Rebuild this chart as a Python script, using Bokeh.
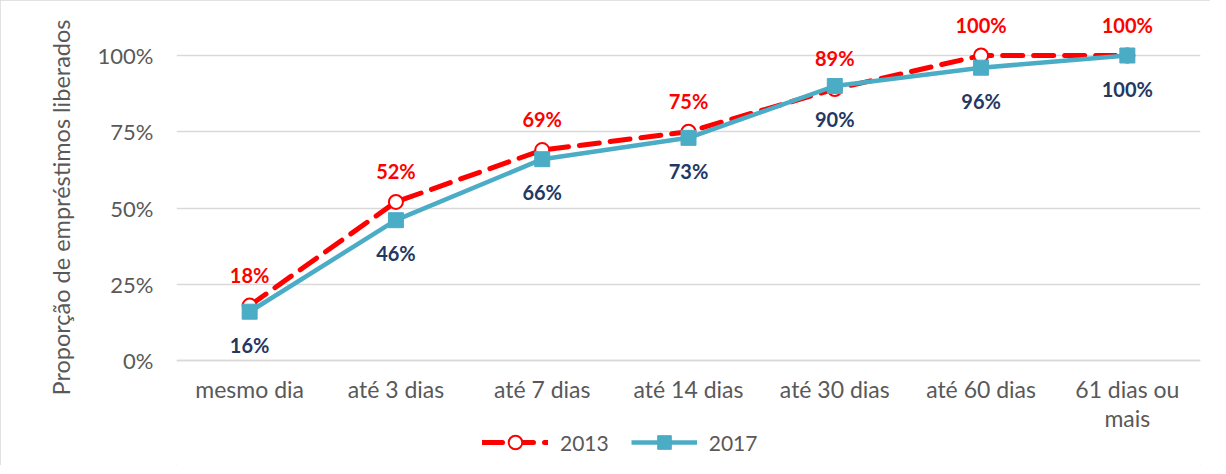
from bokeh.plotting import figure
from bokeh.models import (ColumnDataSource, FactorRange, Range1d, FixedTicker,
                          Legend, LegendItem, NumeralTickFormatter, Title)
from bokeh.core.properties import value
from bokeh.embed import file_html
from bokeh.resources import INLINE

categories = ["mesmo dia", "até 3 dias", "até 7 dias", "até 14 dias",
              "até 30 dias", "até 60 dias", "61 dias ou\nmais"]
values_2013 = [0.18, 0.52, 0.69, 0.75, 0.89, 1.00, 1.00]
values_2017 = [0.16, 0.46, 0.66, 0.73, 0.90, 0.96, 1.00]
labels_2013 = ["18%", "52%", "69%", "75%", "89%", "100%", "100%"]
labels_2017 = ["16%", "46%", "66%", "73%", "90%", "96%", "100%"]
y_ticks = [0, 0.25, 0.5, 0.75, 1.0]

FONT = "Lato"
GRAY = "#595959"
RED = "#FF0000"
BLUE = "#4BACC6"
NAVY = "#1F3864"
GRID = "#D9D9D9"

src13 = ColumnDataSource(dict(x=categories, y=values_2013, t=labels_2013))
src17 = ColumnDataSource(dict(x=categories, y=values_2017, t=labels_2017))

p = figure(x_range=FactorRange(*categories, range_padding=0),
           y_range=Range1d(-105 / 305, 345 / 305),
           width=1210, height=458, frame_width=1024, frame_height=450,
           min_border_left=176, min_border_right=10, min_border_top=15,
           min_border_bottom=0,
           output_backend="svg", toolbar_location=None)
p.outline_line_color = None
p.styles = {"outline": "1px solid #D9D9D9", "outline-offset": "-1px"}

l13 = p.line("x", "y", source=src13, line_color=RED, line_width=5,
             line_dash="20 11", line_cap="round")
s13 = p.scatter("x", "y", source=src13, marker="circle", size=14,
                fill_color="white", line_color=RED, line_width=2)
l17 = p.line("x", "y", source=src17, line_color=BLUE, line_width=4.5)
s17 = p.scatter("x", "y", source=src17, marker="square", size=15,
                fill_color=BLUE, line_color=BLUE)

p.text("x", "y", text="t", source=src13, text_color=RED, text_font=value(FONT),
       text_font_size="20px", text_font_style="bold", text_align="center",
       text_baseline="middle", y_offset=-31)
p.text("x", "y", text="t", source=src17, text_color=NAVY, text_font=value(FONT),
       text_font_size="20px", text_font_style="bold", text_align="center",
       text_baseline="middle", y_offset=33)

p.xgrid.grid_line_color = None
p.ygrid.grid_line_color = GRID
p.ygrid.grid_line_width = 1.5
p.yaxis.ticker = FixedTicker(ticks=y_ticks)
p.yaxis.formatter = NumeralTickFormatter(format="0%")
p.yaxis.axis_line_color = None
p.yaxis.major_tick_line_color = None
p.yaxis.minor_tick_line_color = None
p.yaxis.major_label_standoff = 17

p.xaxis.fixed_location = 0
p.xaxis.axis_line_color = GRID
p.xaxis.axis_line_width = 1.5
p.xaxis.major_tick_line_color = None
p.xaxis.minor_tick_line_color = None
p.xaxis.major_label_standoff = 8
p.xaxis.major_label_text_line_height = 1.05

for ax in (p.xaxis, p.yaxis):
    ax.major_label_text_font = FONT
    ax.major_label_text_color = GRAY
p.yaxis.major_label_text_font_size = "22px"
p.xaxis.major_label_text_font_size = "23px"

ytitle = Title(text="Proporção de empréstimos liberados", align="left",
               offset=70, text_font=FONT, text_font_size="23.5px",
               text_font_style="normal", text_color=GRAY, standoff=40)
p.add_layout(ytitle, "left")

legend = Legend(items=[LegendItem(label="2013", renderers=[l13, s13]),
                       LegendItem(label="2017", renderers=[l17, s17])],
                orientation="horizontal", location=(306, 6),
                glyph_width=66, glyph_height=34, label_standoff=12,
                spacing=22, padding=0, margin=0,
                border_line_color=None, background_fill_alpha=0,
                label_text_font=FONT, label_text_font_size="21px",
                label_text_color=GRAY)
p.add_layout(legend, "center")

open("out.html", "w").write(file_html(p, INLINE))
